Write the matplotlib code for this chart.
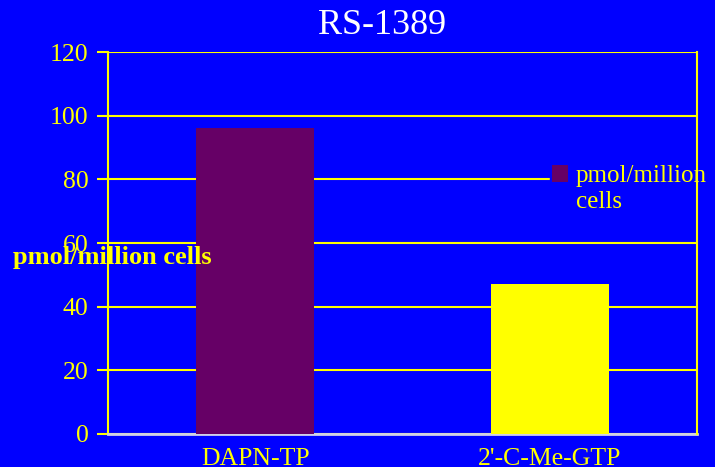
import matplotlib.pyplot as plt
import numpy as np

# Data
categories = ["DAPN-TP", "2'-C-Me-GTP"]
values = [96, 47]
bar_colors = ['#660066', '#FFFF00']
y_ticks = [0, 20, 40, 60, 80, 100, 120]

blue = '#0000FF'
yellow = '#FFFF00'

plt.rcParams['font.family'] = ['Liberation Serif', 'DejaVu Serif']

fig = plt.figure(figsize=(7.15, 4.67), dpi=100, facecolor=blue)
ax = fig.add_axes([108 / 715, 33 / 467, 589 / 715, 382 / 467])
ax.set_facecolor(blue)

x = np.arange(len(categories))
bars = ax.bar(x, values, width=0.4, color=bar_colors, zorder=3)

ax.set_xlim(-0.5, len(categories) - 0.5)
ax.set_ylim(0, 120)
ax.set_yticks(y_ticks)
ax.set_xticks(x)
ax.set_xticklabels(categories)

ax.grid(axis='y', color=yellow, linewidth=1.5, zorder=1)
ax.set_axisbelow(True)

ax.tick_params(axis='y', colors=yellow, labelcolor=yellow, labelsize=18.5,
               length=8, width=1.5, direction='out', pad=6)
ax.tick_params(axis='x', length=0, labelcolor=yellow, labelsize=18.5, pad=10)

for side in ['left', 'right']:
    ax.spines[side].set_color(yellow)
    ax.spines[side].set_linewidth(1.5)
ax.spines['top'].set_visible(False)
ax.spines['bottom'].set_color('#D0D0E8')
ax.spines['bottom'].set_linewidth(2)
ax.spines['right'].set_zorder(6)

# y label, horizontal and drawn over the plot
ax.text(0.0068, 0.463, 'pmol/million cells', transform=ax.transAxes,
        ha='center', va='center', color=yellow, fontsize=19,
        fontweight='bold', zorder=5, clip_on=False)

fig.text(382 / 715, 1 - 25 / 467, 'RS-1389', ha='center', va='center',
         color='white', fontsize=26)

leg = ax.legend([bars[0]], ['pmol/million\ncells'], loc='upper left',
                bbox_to_anchor=(537 / 715, 1 - 150 / 467),
                bbox_transform=fig.transFigure, frameon=True,
                facecolor=blue, edgecolor=blue, framealpha=1,
                fontsize=18, handlelength=0.65, handleheight=0.65,
                handletextpad=0.3, borderpad=0.1, labelspacing=0.1)
leg.set_zorder(4)
for t in leg.get_texts():
    t.set_color(yellow)
    t.set_linespacing(1.25)
for col in leg._legend_handle_box.get_children():
    for item in col.get_children():
        item.align = 'top'

fig.savefig('out.png', dpi=100, facecolor=blue)
